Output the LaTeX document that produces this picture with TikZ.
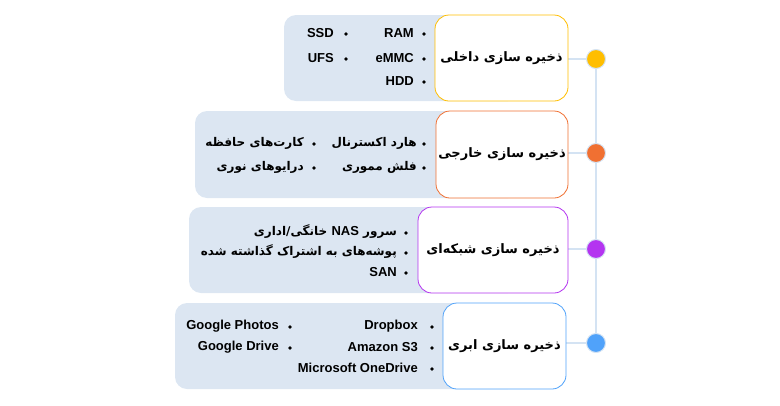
\documentclass[tikz,border=0pt]{standalone}
\usepackage{fontspec}
\setmainfont{Liberation Sans}
\newfontfamily\fa[Script=Arabic]{DejaVu Sans}
\TeXXeTstate=1
\usetikzlibrary{backgrounds}
\definecolor{bgblue}{RGB}{220,230,242}
\definecolor{linec}{RGB}{212,227,243}
\definecolor{cyel}{RGB}{255,190,0}
\definecolor{cora}{RGB}{240,112,50}
\definecolor{cpur}{RGB}{180,52,240}
\definecolor{cblu}{RGB}{80,162,250}
\tikzset{
  panel/.style={fill=bgblue, rounded corners=12pt},
  titlebox/.style={draw=#1, fill=white, rounded corners=14pt, line width=0.8pt, inner sep=0pt,
    font=\fa\bfseries\fontsize{13}{16}\selectfont},
  dotnode/.style={circle, fill=#1, draw=linec, line width=1pt, minimum size=19pt, inner sep=0pt},
  item/.style={anchor=east, inner sep=0pt, font=\bfseries\fontsize{13}{15}\selectfont},
  faitem/.style={anchor=east, inner sep=0pt, font=\fa\bfseries\fontsize{12}{14}\selectfont},
  bul/.style={circle, fill=black, inner sep=0pt, minimum size=3.6pt},
  conn/.style={draw=linec, line width=1.6pt},
}
\begin{document}
\begin{tikzpicture}[x=1pt,y=-1pt]
\useasboundingbox (0,0) rectangle (780,405);
% circles
\node[dotnode=cyel] (c1) at (596,59) {};
\node[dotnode=cora] (c2) at (596,153) {};
\node[dotnode=cpur] (c3) at (596,249) {};
\node[dotnode=cblu] (c4) at (596,343) {};
% title boxes
\node[titlebox=cyel, minimum width=133pt, minimum height=86pt] (t1) at (501.5,58) {\beginR ذخیره سازی داخلی\endR};
\node[titlebox=cora, minimum width=132pt, minimum height=87pt] (t2) at (502,154.5) {\beginR ذخیره سازی خارجی\endR};
\node[titlebox=cpur, minimum width=150pt, minimum height=86pt] (t3) at (493,250) {\beginR ذخیره سازی شبکه‌ای\endR};
\node[titlebox=cblu, minimum width=123pt, minimum height=86pt] (t4) at (504.5,346) {\beginR ذخیره سازی ابری\endR};
\begin{scope}[on background layer]
  \fill[panel] (284,15) rectangle (520,101);
  \fill[panel] (195,111) rectangle (520,198);
  \fill[panel] (189,207) rectangle (520,293);
  \fill[panel] (175,303) rectangle (520,389);
  \draw[conn] (c1.center) -- (c4.center);
  \draw[conn] (t1.east |- c1) -- (c1);
  \draw[conn] (t2.east |- c2) -- (c2);
  \draw[conn] (t3.east |- c3) -- (c3);
  \draw[conn] (t4.east |- c4) -- (c4);
\end{scope}
% row 1
\node[bul] (b11) at (424,34) {}; \node[item] (i11) at (414,33) {RAM};
\node[bul] (b12) at (424,59) {}; \node[item] (i12) at (414,58) {eMMC};
\node[bul] (b13) at (424,82) {}; \node[item] (i13) at (414,81) {HDD};
\node[bul] (b14) at (346,34) {}; \node[item] (i14) at (334,33) {SSD};
\node[bul] (b15) at (346,59) {}; \node[item] (i15) at (334,58) {UFS};
% row 2
\node[bul] (b21) at (424,144) {}; \node[faitem] (i21) at (417,143) {\beginR هارد اکسترنال\endR};
\node[bul] (b22) at (424,168) {}; \node[faitem] (i22) at (417,167) {\beginR فلش مموری\endR};
\node[bul] (b23) at (314,144) {}; \node[faitem] (i23) at (304,143) {\beginR کارت‌های حافظه\endR};
\node[bul] (b24) at (314,168) {}; \node[faitem] (i24) at (304,167) {\beginR درایوهای نوری\endR};
% row 3
\node[bul] (b31) at (406,233) {}; \node[faitem] (i31) at (397,232) {\beginR سرور \beginL{\rmfamily\bfseries\fontsize{13}{15}\selectfont NAS}\endL{} خانگی/اداری\endR};
\node[bul] (b32) at (406,253) {}; \node[faitem] (i32) at (397,252) {\beginR پوشه‌های به اشتراک گذاشته شده\endR};
\node[bul] (b33) at (406,273) {}; \node[item] (i33) at (397,272) {SAN};
% row 4
\node[bul] (b41) at (432,327) {}; \node[item] (i41) at (418,326) {Dropbox};
\node[bul] (b42) at (432,348) {}; \node[item] (i42) at (418,347) {Amazon S3};
\node[bul] (b43) at (432,369) {}; \node[item] (i43) at (418,368) {Microsoft OneDrive};
\node[bul] (b44) at (290,327) {}; \node[item] (i44) at (279,326) {Google Photos};
\node[bul] (b45) at (290,348) {}; \node[item] (i45) at (279,347) {Google Drive};
\end{tikzpicture}
\end{document}
